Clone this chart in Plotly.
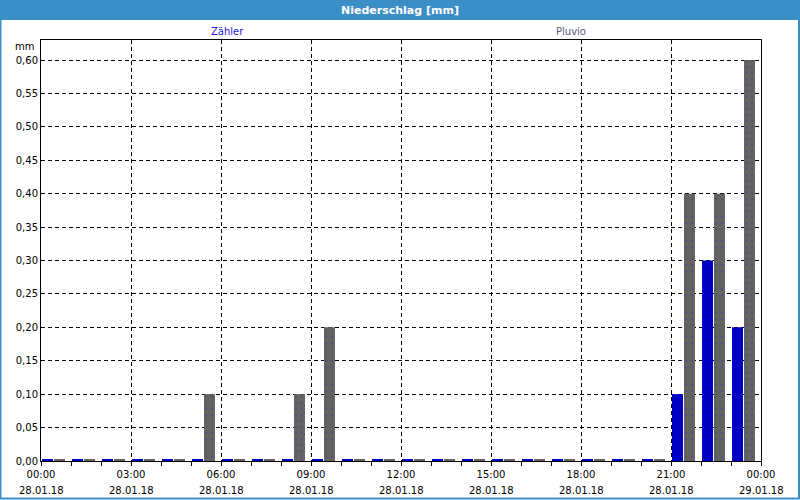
import plotly.graph_objects as go

# ---- data ----
hours = [f"2018-01-28 {h:02d}:00" for h in range(24)]
zaehler = [0, 0, 0, 0, 0, 0, 0, 0, 0, 0, 0, 0,
           0, 0, 0, 0, 0, 0, 0, 0, 0, 0.10, 0.30, 0.20]
pluvio = [0, 0, 0, 0, 0, 0.10, 0, 0, 0.10, 0.20, 0, 0,
          0, 0, 0, 0, 0, 0, 0, 0, 0, 0.40, 0.40, 0.60]
tick_times = ["2018-01-28 00:00", "2018-01-28 03:00", "2018-01-28 06:00",
              "2018-01-28 09:00", "2018-01-28 12:00", "2018-01-28 15:00",
              "2018-01-28 18:00", "2018-01-28 21:00", "2018-01-29 00:00"]
tick_time_text = ["00:00", "03:00", "06:00", "09:00", "12:00", "15:00",
                  "18:00", "21:00", "00:00"]
tick_date_text = ["28.01.18"] * 8 + ["29.01.18"]
y_ticks = [0, 0.05, 0.10, 0.15, 0.20, 0.25, 0.30, 0.35, 0.40, 0.45, 0.50, 0.55, 0.60]

MIN_SHOWN = 0.003  # zero values are drawn as a hairline, like the original
HOUR_MS = 3600000

FONT = "DejaVu Sans"
BLUE = "#0000c4"
GRAY = "#646464"
FRAME = "#3c8fc6"

fig = go.Figure()
fig.add_trace(go.Bar(
    x=hours, y=[max(v, MIN_SHOWN) for v in zaehler], name="Zähler",
    offset=HOUR_MS * 1 / 30, width=HOUR_MS * 11 / 30,
    marker=dict(color=BLUE, line=dict(width=0)),
))
fig.add_trace(go.Bar(
    x=hours, y=[max(v, MIN_SHOWN) for v in pluvio], name="Pluvio",
    offset=HOUR_MS * 13 / 30, width=HOUR_MS * 11 / 30,
    marker=dict(color=GRAY, line=dict(width=0),
                pattern=dict(shape=".", fgcolor="#3a3a90", bgcolor=GRAY,
                             size=6, solidity=0.08)),
))

L, R, T, B = 41, 39, 40, 39
W, H = 800, 500
pw, ph = W - L - R, H - T - B


def px_x(px):
    return (px - L) / pw


def px_y(py):
    return (H - B - py) / ph


shapes = [
    # title bar
    dict(type="rect", xref="paper", yref="paper", x0=px_x(0), x1=px_x(800),
         y0=px_y(20), y1=px_y(0), fillcolor=FRAME, line=dict(width=0), layer="below"),
    # window frame
    dict(type="rect", xref="paper", yref="paper", x0=px_x(0.5), x1=px_x(799),
         y0=px_y(498.5), y1=px_y(0), line=dict(color=FRAME, width=2), fillcolor="rgba(0,0,0,0)"),
]

annotations = [
    dict(text="Zähler", xref="paper", yref="paper", x=px_x(209), y=px_y(32),
         yanchor="middle", showarrow=False, font=dict(family=FONT, size=10, color="#2020d8")),
    dict(text="Pluvio", xref="paper", yref="paper", x=px_x(588), y=px_y(32),
         yanchor="middle", showarrow=False, font=dict(family=FONT, size=10, color="#5a5a80")),
    dict(text="mm", xref="paper", yref="paper", x=px_x(36), y=px_y(46),
         xanchor="right", yanchor="middle", showarrow=False,
         font=dict(family=FONT, size=10, color="black")),
]
for t, d in zip(tick_times, tick_date_text):
    annotations.append(dict(text=d, x=t, xref="x", yref="paper", y=px_y(490),
                            yanchor="middle", showarrow=False,
                            font=dict(family=FONT, size=10, color="black")))

fig.update_layout(
    width=W, height=H,
    margin=dict(l=L, r=R, t=T, b=B),
    paper_bgcolor="white", plot_bgcolor="white",
    barmode="overlay", showlegend=False,
    separators=",.",
    title=dict(text="<b>Niederschlag [mm]</b>", x=0.5, xanchor="center",
               y=1 - 10 / H, yref="container", yanchor="middle",
               font=dict(family=FONT, size=11, color="white")),
    xaxis=dict(type="date", range=[tick_times[0], tick_times[-1]],
               tickvals=tick_times, ticktext=tick_time_text,
               ticks="outside", ticklen=4, tickcolor="black",
               minor=dict(dtick=HOUR_MS, ticks="outside", ticklen=4, tickcolor="black",
                          showgrid=False),
               showgrid=True, gridcolor="black", griddash="4px,3px", gridwidth=1,
               showline=True, linecolor="black", linewidth=1, mirror=True,
               tickfont=dict(family=FONT, size=10, color="black")),
    yaxis=dict(range=[0, 0.63], tickvals=y_ticks, tickformat=".2f",
               ticks="", showgrid=True, gridcolor="black", griddash="4px,3px", gridwidth=1,
               showline=True, linecolor="black", linewidth=1, mirror=True, zeroline=False,
               tickfont=dict(family=FONT, size=10, color="black")),
    shapes=shapes, annotations=annotations,
)

fig.write_html("out.html")
